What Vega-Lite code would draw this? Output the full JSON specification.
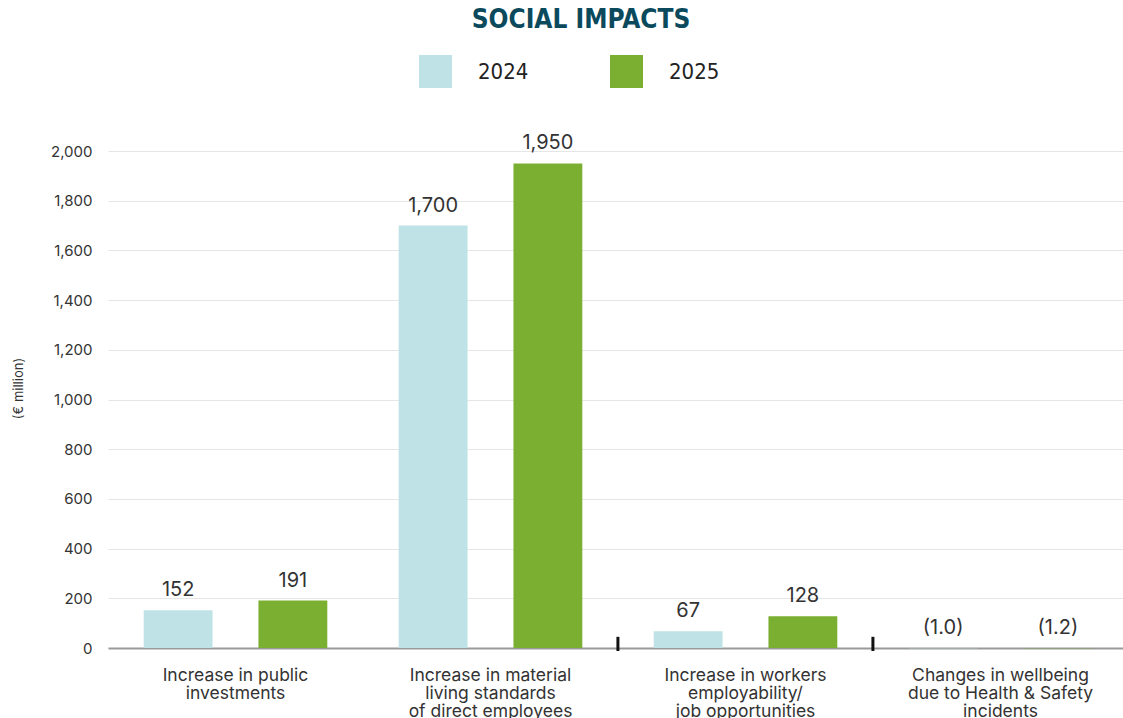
{
  "$schema": "https://vega.github.io/schema/vega-lite/v6.json",
  "autosize": "none",
  "width": 1020,
  "height": 497,
  "padding": {"left": 108, "top": 151, "right": 0, "bottom": 75},
  "background": "white",
  "config": {
    "view": {"stroke": null},
    "font": "Inter"
  },
  "title": {
    "text": "SOCIAL IMPACTS",
    "font": "DejaVu Sans Condensed",
    "fontSize": 26,
    "fontWeight": "bold",
    "color": "#0b4a5c",
    "anchor": "middle",
    "dx": -37,
    "offset": 22
  },
  "datasets": {
    "impacts": [
      {"category": "Increase in public|investments", "year": "2024", "value": 152, "label": "152"},
      {"category": "Increase in public|investments", "year": "2025", "value": 191, "label": "191"},
      {"category": "Increase in material|living standards|of direct employees", "year": "2024", "value": 1700, "label": "1,700"},
      {"category": "Increase in material|living standards|of direct employees", "year": "2025", "value": 1950, "label": "1,950"},
      {"category": "Increase in workers|employability/|job opportunities", "year": "2024", "value": 67, "label": "67"},
      {"category": "Increase in workers|employability/|job opportunities", "year": "2025", "value": 128, "label": "128"},
      {"category": "Changes in wellbeing|due to Health & Safety|incidents", "year": "2024", "value": -1.0, "label": "(1.0)"},
      {"category": "Changes in wellbeing|due to Health & Safety|incidents", "year": "2025", "value": -1.2, "label": "(1.2)"}
    ],
    "separators": [
      {"category": "Increase in material|living standards|of direct employees"},
      {"category": "Increase in workers|employability/|job opportunities"}
    ]
  },
  "layer": [
    {
      "data": {"name": "impacts"},
      "mark": {"type": "bar"},
      "encoding": {
        "x": {
          "field": "category", "type": "nominal", "sort": null, "title": null,
          "scale": {"paddingInner": 0.28, "paddingOuter": 0.14},
          "axis": {
            "labelExpr": "split(datum.label, '|')",
            "labelAngle": 0,
            "labelFontSize": 17.5,
            "labelColor": "#333333",
            "labelLineHeight": 18,
            "labelPadding": 18,
            "labelLimit": 300,
            "ticks": false,
            "domainColor": "#999999",
            "domainWidth": 2,
            "grid": false
          }
        },
        "xOffset": {
          "field": "year", "type": "nominal",
          "scale": {"paddingInner": 0.4, "paddingOuter": 0}
        },
        "y": {
          "field": "value", "type": "quantitative",
          "scale": {"domain": [0, 2000], "nice": false},
          "title": "(€ million)",
          "axis": {
            "values": [0, 200, 400, 600, 800, 1000, 1200, 1400, 1600, 1800, 2000],
            "format": ",.0f",
            "domain": false,
            "ticks": false,
            "labelFontSize": 15,
            "labelColor": "#333333",
            "labelPadding": 16,
            "gridColor": "#e6e6e6",
            "gridWidth": 1,
            "titleFontSize": 13,
            "titleFontWeight": "normal",
            "titleColor": "#333333",
            "titleX": -90,
            "titleY": 237,
            "titleAngle": 270,
            "titleAlign": "center",
            "titleBaseline": "middle"
          }
        },
        "color": {
          "field": "year", "type": "nominal",
          "scale": {"domain": ["2024", "2025"], "range": ["#bfe2e6", "#7aaf31"]},
          "legend": {
            "title": null,
            "orient": "none",
            "direction": "horizontal",
            "legendX": 311,
            "legendY": -96,
            "padding": 0,
            "symbolType": "square",
            "symbolSize": 1089,
            "symbolStrokeWidth": 0,
            "symbolOpacity": 1,
            "labelFont": "DejaVu Sans Condensed",
            "labelFontSize": 22,
            "labelColor": "#222222",
            "labelOffset": 26,
            "columnPadding": 81
          }
        }
      }
    },
    {
      "data": {"name": "impacts"},
      "mark": {"type": "text", "fontSize": 20, "color": "#333333", "baseline": "alphabetic", "dy": -14},
      "encoding": {
        "x": {"field": "category", "type": "nominal", "sort": null},
        "xOffset": {"field": "year", "type": "nominal"},
        "y": {"field": "value", "type": "quantitative"},
        "text": {"field": "label"}
      }
    },
    {
      "data": {"name": "separators"},
      "mark": {"type": "rule", "color": "#111111", "strokeWidth": 3},
      "encoding": {
        "x": {"field": "category", "type": "nominal", "sort": null, "bandPosition": 1.194},
        "y": {"datum": 45},
        "y2": {"datum": -12}
      }
    }
  ]
}
